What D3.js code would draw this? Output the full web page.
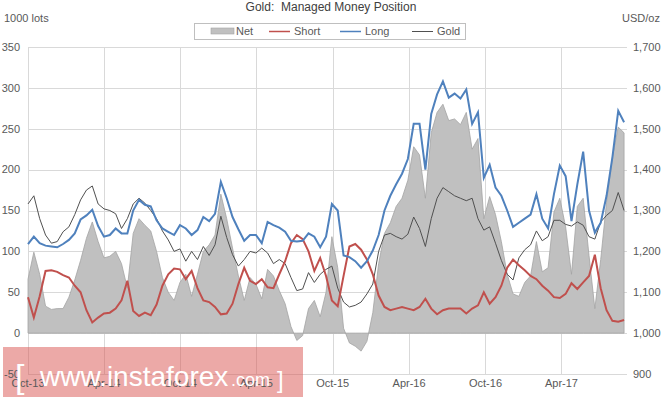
<!DOCTYPE html>
<html>
<head>
<meta charset="utf-8">
<script src="https://cdn.jsdelivr.net/npm/d3@7"></script>
<style>
  body { margin: 0; background: #fff; }
  svg { display: block; font-family: "Liberation Sans", Arial, sans-serif; }
</style>
</head>
<body>
<div id="chart"></div>
<script>
// weekly COT data, sampled every two weeks from Oct 2013
const startDate = new Date(2013, 9, 1);
const stepDays = 14;

const netLots = [
  66, 99, 72, 33, 29, 30, 30, 44, 65, 89, 116, 136, 112, 92, 94, 100, 85, 55, 122, 140, 132,
  125, 100, 68, 50, 40, 62, 72, 45, 72, 100, 108, 120, 170, 140, 104, 70, 40, 68, 60, 42,
  78, 70, 52, 36, 8, -9, -3, 30, 40, 20, 50, 118, 80, 6, -12, -16, -22, -10, 25, 85, 122,
  135, 155, 165, 187, 228, 218, 165, 245, 270, 280, 260, 262, 255, 270, 225, 238, 140, 167, 145, 112, 72,
  48, 45, 62, 70, 112, 75, 80, 148, 165, 130, 72, 155, 165, 95, 30, 90, 160, 215, 252, 245
];

const shortLots = [
  44, 19, 45, 76, 77, 75, 71, 68, 58, 50, 28, 13, 19, 24, 25, 30, 40, 64, 27, 21, 25,
  22, 35, 58, 72, 79, 78, 66, 76, 55, 40, 38, 32, 23, 24, 36, 60, 80, 64, 60, 66,
  56, 55, 72, 88, 110, 120, 115, 100, 76, 92, 70, 40, 33, 70, 106, 109, 102, 90, 72, 46, 32,
  28, 30, 32, 30, 28, 32, 42, 30, 23, 28, 30, 30, 30, 24, 30, 34, 50, 36, 44, 58, 80,
  90, 83, 77, 70, 66, 58, 52, 44, 43, 48, 61, 54, 62, 70, 96, 55, 28, 15, 14, 16
];

const longLots = [
  109, 118, 110, 107, 106, 105, 109, 114, 122, 139, 144, 151, 131, 118, 120, 128, 122, 122, 150, 163, 157,
  155, 138, 128, 124, 120, 132, 128, 120, 126, 142, 137, 146, 185, 165, 142, 127, 113, 120, 120, 110,
  136, 132, 129, 124, 113, 112, 113, 122, 118, 105, 118, 158, 150, 95, 93, 88, 80, 88, 101, 120,
  150, 168, 182, 195, 213, 256, 256, 200, 268, 292, 308, 288, 293, 287, 298, 256, 270, 190, 206, 178,
  168, 150, 130, 135, 140, 145, 170, 140, 128, 170, 205, 192, 137, 182, 222, 150, 123, 135, 168, 215, 272, 258
];

const goldUsd = [
  1316, 1336, 1280, 1240, 1220, 1224, 1248, 1260, 1290, 1326, 1350, 1360, 1316, 1304, 1300, 1292, 1256, 1280, 1316, 1330, 1318,
  1300, 1280, 1250, 1228, 1200, 1206, 1176, 1200, 1180, 1212, 1190, 1216, 1286, 1234, 1192, 1164, 1180, 1200, 1196, 1208,
  1196, 1170, 1180, 1170, 1136, 1104, 1108, 1148, 1124, 1144, 1156, 1164, 1110, 1076, 1064, 1068, 1076, 1096, 1120, 1200, 1240,
  1244, 1236, 1230, 1242, 1284, 1256, 1212, 1280, 1330, 1356, 1346, 1336, 1330, 1324, 1330, 1280, 1252, 1260, 1220, 1178, 1144,
  1130, 1184, 1204, 1216, 1250, 1226, 1236, 1276, 1276, 1266, 1262, 1272, 1264, 1236, 1230, 1272, 1288, 1300, 1344, 1300
];

const leftTicks = [-50, 0, 50, 100, 150, 200, 250, 300, 350];
const rightTicks = [900, 1000, 1100, 1200, 1300, 1400, 1500, 1600, 1700];
const xTickLabels = ['Oct-13', 'Apr-14', 'Oct-14', 'Apr-15', 'Oct-15', 'Apr-16', 'Oct-16', 'Apr-17'];

const width = 665, height = 399;
const plot = { left: 28, right: 627, top: 47, bottom: 374 };

const svg = d3.select('#chart').append('svg')
  .attr('width', width)
  .attr('height', height);

const rows = netLots.map((n, i) => ({
  date: d3.timeDay.offset(startDate, i * stepDays),
  net: n,
  short: shortLots[i],
  long: longLots[i],
  gold: goldUsd[i]
}));

const x = d3.scaleTime()
  .domain([startDate, new Date(2017, 8, 5)])
  .range([plot.left, plot.right]);
const yL = d3.scaleLinear().domain([-50, 350]).range([plot.bottom, plot.top]);
const yR = d3.scaleLinear().domain([900, 1700]).range([plot.bottom, plot.top]);

const parseTick = d3.timeParse('%b-%y');
const xTicks = xTickLabels.map(s => ({ label: s, date: parseTick(s) }));

// grid
const grid = svg.append('g').attr('stroke', '#d9d9d9').attr('stroke-width', 1);
grid.selectAll('line.h').data(leftTicks).enter().append('line')
  .attr('x1', plot.left).attr('x2', plot.right)
  .attr('y1', d => Math.round(yL(d)) + 0.5).attr('y2', d => Math.round(yL(d)) + 0.5);
grid.selectAll('line.v').data(xTicks).enter().append('line')
  .attr('y1', plot.top).attr('y2', plot.bottom)
  .attr('x1', d => Math.round(x(d.date)) + 0.5).attr('x2', d => Math.round(x(d.date)) + 0.5);

// net area
const area = d3.area()
  .x(d => x(d.date))
  .y0(yL(0))
  .y1(d => yL(d.net));
svg.append('path').datum(rows)
  .attr('d', area)
  .attr('fill', '#c0c0c0')
  .attr('stroke', '#a3a3a3')
  .attr('stroke-width', 0.8);

const lineOf = (key, scale) => d3.line().x(d => x(d.date)).y(d => scale(d[key]));

svg.append('path').datum(rows)
  .attr('d', lineOf('gold', yR))
  .attr('fill', 'none').attr('stroke', '#505050').attr('stroke-width', 1);
svg.append('path').datum(rows)
  .attr('d', lineOf('short', yL))
  .attr('fill', 'none').attr('stroke', '#c0504d').attr('stroke-width', 2);
svg.append('path').datum(rows)
  .attr('d', lineOf('long', yL))
  .attr('fill', 'none').attr('stroke', '#4f81bd').attr('stroke-width', 2);

// watermark band (labels show through it, so it goes under them)
svg.append('rect').attr('x', 3).attr('y', 347).attr('width', 300).attr('height', 50)
  .attr('fill', '#d9534f').attr('opacity', 0.5);

// axis labels
const tickColor = '#595959';
svg.append('g').selectAll('text').data(leftTicks).enter().append('text')
  .attr('x', 20).attr('y', d => yL(d)).attr('dy', '0.35em')
  .attr('text-anchor', 'end').attr('font-size', 11).attr('fill', tickColor)
  .text(d => d);
svg.append('g').selectAll('text').data(rightTicks).enter().append('text')
  .attr('x', 633).attr('y', d => yR(d)).attr('dy', '0.35em')
  .attr('font-size', 11).attr('fill', tickColor)
  .text(d => d3.format(',')(d));
svg.append('g').selectAll('text').data(xTicks).enter().append('text')
  .attr('x', d => x(d.date)).attr('y', 387)
  .attr('text-anchor', 'middle').attr('font-size', 11).attr('fill', tickColor)
  .text(d => d.label);

svg.append('text').attr('x', 4).attr('y', 22)
  .attr('font-size', 11).attr('fill', tickColor).text('1000 lots');
svg.append('text').attr('x', 660).attr('y', 22).attr('text-anchor', 'end')
  .attr('font-size', 11).attr('fill', tickColor).text('USD/oz');

// title
svg.append('text').attr('x', 331).attr('y', 11)
  .attr('text-anchor', 'middle').attr('font-size', 12).attr('fill', '#404040')
  .attr('xml:space', 'preserve')
  .text('Gold:  Managed Money Position');

// legend
const legend = svg.append('g');
legend.append('rect')
  .attr('x', 194.5).attr('y', 23.5).attr('width', 271).attr('height', 16)
  .attr('fill', '#fff').attr('stroke', '#bfbfbf');
const legendItems = [
  { name: 'Net', type: 'rect', color: '#c0c0c0', x: 211 },
  { name: 'Short', type: 'line', color: '#c0504d', x: 269 },
  { name: 'Long', type: 'line', color: '#4f81bd', x: 340 },
  { name: 'Gold', type: 'line', color: '#505050', x: 412 }
];
legendItems.forEach(it => {
  if (it.type === 'rect') {
    legend.append('rect').attr('x', it.x).attr('y', 28).attr('width', 23).attr('height', 6)
      .attr('fill', it.color).attr('stroke', '#a3a3a3').attr('stroke-width', 0.6);
  } else {
    legend.append('line').attr('x1', it.x).attr('x2', it.x + 21).attr('y1', 31.5).attr('y2', 31.5)
      .attr('stroke', it.color).attr('stroke-width', it.name === 'Gold' ? 1 : 1.5);
  }
  legend.append('text').attr('x', it.x + 25).attr('y', 31.5).attr('dy', '0.35em')
    .attr('font-size', 11).attr('fill', tickColor).text(it.name);
});

// watermark text on top of everything
const wm = svg.append('g').attr('fill', '#fff');
wm.append('text').attr('x', 15).attr('y', 388).attr('font-size', 34).text('[');
wm.append('text').attr('x', 40).attr('y', 386).attr('font-size', 28).text('www.instaforex');
wm.append('text').attr('x', 231).attr('y', 386).attr('font-size', 18).text('.com');
wm.append('text').attr('x', 277).attr('y', 388).attr('font-size', 24).text(']');
</script>
</body>
</html>
